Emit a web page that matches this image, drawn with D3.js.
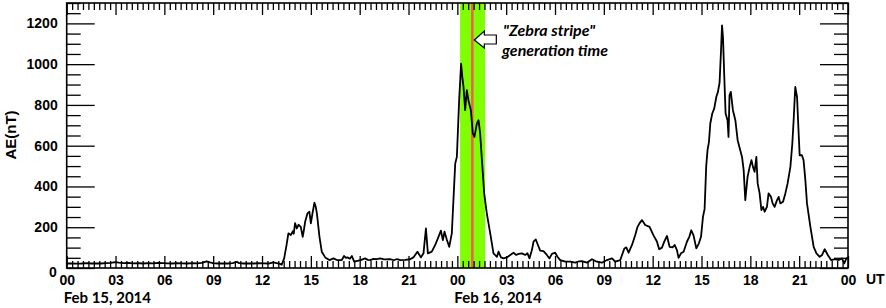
<!DOCTYPE html>
<html lang="en">
<head>
<meta charset="UTF-8">
<title>AE index, Feb 15-16 2014</title>
<script src="https://d3js.org/d3.v7.min.js"></script>
<style>
    body { margin: 0; background: #fff; }
    svg { display: block; }
    .tick text { font-family: "Liberation Sans", Arial, sans-serif; font-weight: bold; font-size: 14px; fill: #000; }
    .tick line { stroke: #000; stroke-width: 1.3px; }
    .domain { display: none; }
    .date { font-family: Lato, "Open Sans", sans-serif; font-weight: bold; font-size: 15px; }
    .note { font-family: Lato, "Open Sans", sans-serif; font-weight: bold; font-style: italic; font-size: 16px; }
</style>
</head>
<body>
<svg width="886" height="308"></svg>
<script>
    // hours since Feb 15, 2014 00 UT
    var hours = [
        0, 0.3, 0.6, 0.9, 1.2, 1.5, 1.8, 2.1, 2.4, 2.7, 3.0, 3.2, 3.5, 3.8, 4.1, 4.4, 4.7, 5.0, 5.3, 5.6,
        5.9, 6.2, 6.5, 6.8, 7.1, 7.4, 7.7, 8.0, 8.3, 8.6, 8.8, 9.0, 9.3, 9.6, 9.9, 10.2, 10.45, 10.6, 10.9, 11.2,
        11.5, 11.8, 12.1, 12.4, 12.7, 12.9, 13.1, 13.21, 13.36, 13.5, 13.62, 13.77, 13.89, 13.95, 14.03, 14.14, 14.24, 14.38, 14.5, 14.58,
        14.65, 14.79, 14.91, 15.0, 15.1, 15.22, 15.3, 15.37, 15.53, 15.67, 15.88, 16.14, 16.39, 16.6, 16.9, 17.04, 17.15, 17.25, 17.4, 17.52,
        17.66, 17.92, 18.1, 18.33, 18.5, 18.64, 18.85, 19.05, 19.26, 19.5, 19.87, 20.1, 20.3, 20.49, 20.8, 21.1, 21.3, 21.55, 21.76, 21.92,
        22.07, 22.19, 22.43, 22.64, 22.84, 22.99, 23.11, 23.21, 23.36, 23.5, 23.66, 23.72, 23.8, 23.87, 23.97, 24.11, 24.23, 24.3, 24.38, 24.48,
        24.58, 24.68, 24.83, 24.95, 25.05, 25.2, 25.3, 25.4, 25.51, 25.65, 25.81, 26.02, 26.22, 26.43, 26.53, 26.68, 26.84, 27.04, 27.25, 27.45,
        27.62, 27.76, 27.97, 28.17, 28.31, 28.43, 28.58, 28.68, 28.82, 28.95, 29.09, 29.29, 29.5, 29.66, 29.81, 30.01, 30.15, 30.32, 30.63, 30.93,
        31.24, 31.45, 31.65, 31.96, 32.27, 32.57, 32.88, 33.19, 33.5, 33.7, 34.01, 34.26, 34.38, 34.52, 34.73, 34.93, 35.07, 35.19, 35.34, 35.54,
        35.81, 36.05, 36.26, 36.4, 36.57, 36.71, 36.88, 37.04, 37.22, 37.35, 37.49, 37.59, 37.74, 37.9, 38.11, 38.25, 38.37, 38.51, 38.68, 38.84,
        38.97, 39.09, 39.19, 39.29, 39.37, 39.46, 39.54, 39.66, 39.78, 39.91, 40.01, 40.11, 40.2, 40.26, 40.32, 40.4, 40.48, 40.6, 40.66, 40.72,
        40.8, 40.93, 41.08, 41.22, 41.38, 41.49, 41.59, 41.69, 41.83, 41.96, 42.07, 42.16, 42.26, 42.37, 42.45, 42.57, 42.68, 42.78, 42.88, 43.02,
        43.12, 43.27, 43.37, 43.49, 43.64, 43.74, 43.84, 44.01, 44.15, 44.29, 44.46, 44.58, 44.66, 44.76, 44.87, 44.95, 45.03, 45.17, 45.27, 45.38,
        45.48, 45.69, 45.89, 46.06, 46.26, 46.41, 46.57, 46.76, 46.96, 47.22, 47.43, 47.63, 47.77, 47.9, 48.0
    ];
    var ae = [
        22, 23, 21, 22, 24, 22, 23, 22, 24, 25, 29, 26, 24, 25, 23, 24, 22, 24, 23, 25,
        24, 23, 22, 24, 23, 22, 24, 23, 25, 33, 28, 24, 22, 23, 22, 24, 30, 24, 22, 23,
        22, 24, 23, 22, 28, 24, 20, 16, 47, 110, 170, 162, 180, 168, 220, 194, 212, 202, 153, 190,
        227, 268, 276, 219, 268, 320, 300, 268, 153, 80, 52, 39, 47, 39, 39, 59, 50, 52, 45, 59,
        31, 36, 40, 47, 40, 39, 45, 43, 47, 42, 43, 38, 44, 39, 40, 43, 52, 80, 52, 72,
        194, 72, 80, 113, 153, 183, 137, 178, 137, 104, 170, 268, 400, 513, 545, 823, 1002, 940, 888, 774,
        872, 823, 774, 660, 643, 709, 725, 660, 529, 366, 268, 170, 72, 55, 80, 52, 47, 52, 64, 75,
        64, 69, 72, 64, 72, 47, 88, 129, 140, 113, 85, 83, 64, 47, 69, 75, 55, 39, 31, 31,
        26, 32, 34, 26, 43, 31, 26, 39, 47, 31, 39, 96, 101, 75, 113, 162, 202, 219, 235, 211,
        202, 160, 130, 92, 100, 129, 157, 104, 101, 113, 88, 50, 72, 80, 130, 153, 185, 160, 96, 121,
        153, 251, 290, 500, 578, 620, 709, 758, 782, 839, 864, 910, 1068, 1190, 1133, 937, 758, 725, 643, 847,
        864, 774, 725, 627, 578, 545, 480, 333, 447, 496, 529, 496, 472, 545, 415, 366, 284, 300, 276, 300,
        366, 349, 317, 300, 333, 349, 317, 325, 366, 415, 496, 611, 725, 888, 839, 692, 553, 553, 529, 431,
        317, 202, 104, 72, 55, 64, 92, 64, 39, 43, 39, 47, 23, 47, 52
    ];

    var xTickHours = [0, 3, 6, 9, 12, 15, 18, 21, 24, 27, 30, 33, 36, 39, 42, 45, 48];
    var xTickLabels = ["00", "03", "06", "09", "12", "15", "18", "21", "00", "03", "06", "09", "12", "15", "18", "21", "00"];
    var yTicks = [0, 200, 400, 600, 800, 1000, 1200];
    var dateLabels = [{ hour: 0, text: "Feb 15, 2014" }, { hour: 24, text: "Feb 16, 2014" }];
    var stripeStart = 24.17, stripeEnd = 25.7, stripeTime = 24.92;

    var svg = d3.select("svg");
    var plotLeft = 66.7, plotRight = 848, plotTop = 3, plotBottom = 268;

    var x = d3.scaleLinear().domain([0, 48]).range([plotLeft, plotRight]);
    var y = d3.scaleLinear().domain([0, 1300]).range([plotBottom, plotTop]);

    // highlight band and event line
    svg.append("rect")
        .attr("x", x(stripeStart)).attr("y", plotTop)
        .attr("width", x(stripeEnd) - x(stripeStart)).attr("height", plotBottom - plotTop)
        .attr("fill", "#80ff00");
    svg.append("line")
        .attr("x1", x(stripeTime)).attr("x2", x(stripeTime))
        .attr("y1", plotTop).attr("y2", plotBottom)
        .attr("stroke", "#f25c54").attr("stroke-width", 2.5);

    var minorX = d3.range(0, 48 * 3 + 1).map(function(i) { return i / 3; })
        .filter(function(h) { return Math.abs(h / 3 - Math.round(h / 3)) > 0.01; });
    var minorY = d3.range(0, 1301, 50).filter(function(v) { return v % 200 !== 0; });

    // ticks, all pointing into the plot
    svg.append("g").attr("transform", "translate(0," + plotBottom + ")")
        .call(d3.axisBottom(x).tickValues(xTickHours).tickSize(-12).tickSizeOuter(0).tickPadding(7)
            .tickFormat(function(d, i) { return xTickLabels[i]; }));
    svg.append("g").attr("transform", "translate(0," + plotBottom + ")")
        .call(d3.axisBottom(x).tickValues(minorX).tickSize(-7).tickSizeOuter(0).tickFormat(""));
    svg.append("g").attr("transform", "translate(0," + plotTop + ")")
        .call(d3.axisTop(x).tickValues(xTickHours).tickSize(-12).tickSizeOuter(0).tickFormat(""));
    svg.append("g").attr("transform", "translate(0," + plotTop + ")")
        .call(d3.axisTop(x).tickValues(minorX).tickSize(-7).tickSizeOuter(0).tickFormat(""));

    var yAxis = svg.append("g").attr("transform", "translate(" + plotLeft + ",0)")
        .call(d3.axisLeft(y).tickValues(yTicks).tickSize(-28).tickSizeOuter(0).tickPadding(9)
            .tickFormat(d3.format("d")));
    yAxis.selectAll(".tick text").filter(function(d) { return d === 0; }).attr("dy", "0.6em").attr("x", -10);
    svg.append("g").attr("transform", "translate(" + plotLeft + ",0)")
        .call(d3.axisLeft(y).tickValues(minorY).tickSize(-14).tickSizeOuter(0).tickFormat(""));
    svg.append("g").attr("transform", "translate(" + plotRight + ",0)")
        .call(d3.axisRight(y).tickValues(yTicks).tickSize(-28).tickSizeOuter(0).tickFormat(""));
    svg.append("g").attr("transform", "translate(" + plotRight + ",0)")
        .call(d3.axisRight(y).tickValues(minorY).tickSize(-14).tickSizeOuter(0).tickFormat(""));

    // AE curve
    var line = d3.line()
        .x(function(d, i) { return x(hours[i]); })
        .y(function(d) { return y(d); });
    svg.append("path")
        .datum(ae)
        .attr("d", line)
        .attr("fill", "none")
        .attr("stroke", "#000")
        .attr("stroke-width", 1.8)
        .attr("stroke-linejoin", "round");

    // frame
    svg.append("rect")
        .attr("x", plotLeft).attr("y", plotTop)
        .attr("width", plotRight - plotLeft).attr("height", plotBottom - plotTop)
        .attr("fill", "none").attr("stroke", "#000").attr("stroke-width", 1.6);

    svg.append("text")
        .attr("transform", "translate(16,135) rotate(-90)")
        .attr("text-anchor", "middle")
        .style("font-family", "'Liberation Sans', Arial, sans-serif")
        .style("font-weight", "bold").style("font-size", "15px")
        .text("AE(nT)");

    svg.append("text")
        .attr("x", 866).attr("y", 284)
        .style("font-family", "'Liberation Sans', Arial, sans-serif")
        .style("font-weight", "bold").style("font-size", "14px")
        .text("UT");

    svg.selectAll(".date").data(dateLabels).enter().append("text")
        .attr("class", "date")
        .attr("x", function(d) { return x(d.hour) - 3; })
        .attr("y", 303)
        .text(function(d) { return d.text; });

    // annotation arrow pointing at the event line
    var ax = x(stripeTime) + 2, ay = 40;
    var arrow = [[ax, ay], [ax + 10, ay - 9], [ax + 10, ay - 5], [ax + 22, ay - 5],
                 [ax + 22, ay + 4], [ax + 10, ay + 4], [ax + 10, ay + 8]];
    svg.append("path")
        .attr("d", d3.line()(arrow) + "Z")
        .attr("fill", "#fff").attr("stroke", "#000").attr("stroke-width", 1.2);

    svg.append("text").attr("class", "note").attr("x", 503).attr("y", 36).text("\"Zebra stripe\"");
    svg.append("text").attr("class", "note").attr("x", 502).attr("y", 56).text("generation time");
</script>
</body>
</html>
